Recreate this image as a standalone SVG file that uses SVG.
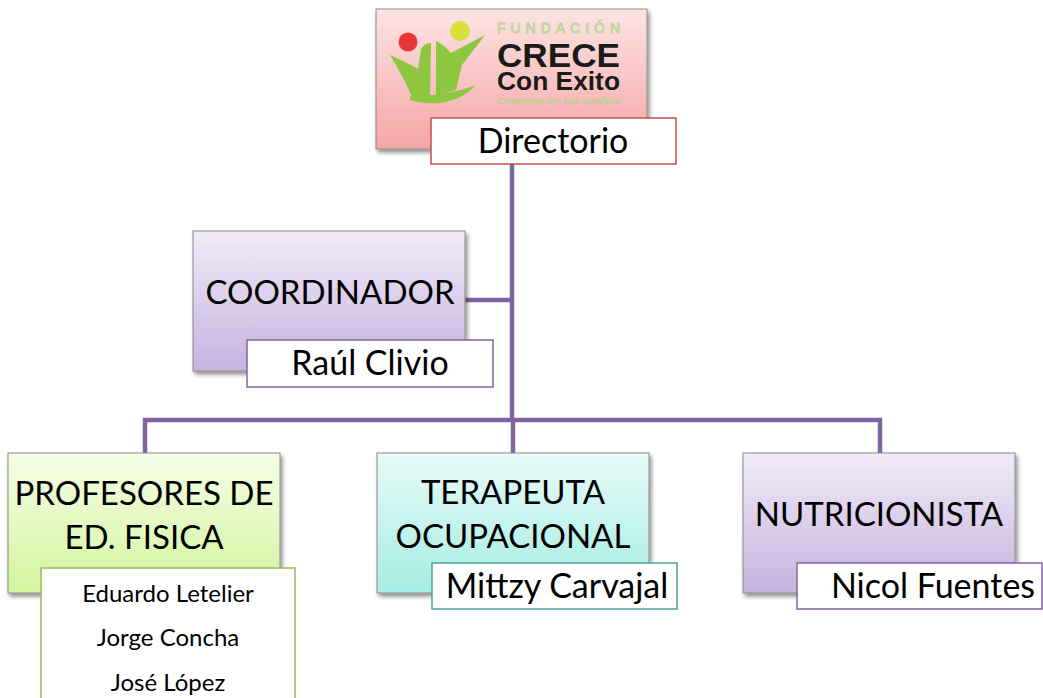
<svg xmlns="http://www.w3.org/2000/svg" width="1043" height="698" viewBox="0 0 1043 698">
<defs>
<linearGradient id="gPink" x1="0" y1="0" x2="0" y2="1"><stop offset="0" stop-color="#fde3e3"/><stop offset="1" stop-color="#f5a6a6"/></linearGradient>
<linearGradient id="gLav" x1="0" y1="0" x2="0" y2="1"><stop offset="0" stop-color="#f0ebf8"/><stop offset="1" stop-color="#c6b2df"/></linearGradient>
<linearGradient id="gGreen" x1="0" y1="0" x2="0" y2="1"><stop offset="0" stop-color="#f5fde6"/><stop offset="1" stop-color="#d3f59e"/></linearGradient>
<linearGradient id="gCyan" x1="0" y1="0" x2="0" y2="1"><stop offset="0" stop-color="#e8fbf9"/><stop offset="1" stop-color="#a5ece2"/></linearGradient>
<filter id="sh" x="-10%" y="-10%" width="125%" height="130%"><feDropShadow dx="2" dy="3" stdDeviation="2" flood-color="#000" flood-opacity="0.45"/></filter>
<style>
.box{stroke:#8c8c8c;stroke-width:1;filter:url(#sh)}
.sub{fill:#fff;stroke-width:1.5}
.t{font-family:Lato,"Liberation Sans",sans-serif;fill:#000;text-anchor:middle}
.big{font-size:33px}
.mid{font-size:34px}
.small{font-size:24px}
.conn{fill:none;stroke:#8064a2;stroke-width:4.5}
.lg{fill:#8dc63f}
.lt{font-family:"Liberation Sans",Arial,sans-serif;text-anchor:start}
</style>
</defs>
<g id="connectors">
<path class="conn" d="M512,164 V422"/>
<path class="conn" d="M465,300 H512"/>
<path class="conn" d="M145,453 V420 H880 V453"/>
<path class="conn" d="M513,420 V453"/>
</g>
<g id="node-directorio">
<rect class="box" x="376" y="9" width="271" height="140" fill="url(#gPink)"/>
<g id="logo">
<path class="lg" d="M390,55 Q406,62 418,69 L421,49 Q424,43 431,43 L430,96 L413,99 Q404,78 390,55 Z"/>
<path class="lg" d="M436,41 Q444,45 451,53 Q468,44 485,35 Q472,52 462,65 L456,90 L436,96 Z"/>
<path class="lg" d="M410,96 Q445,97 476,85 Q462,100 440,103 Q423,104 410,100 Z"/>
<circle cx="408" cy="42" r="9.5" fill="#e5383b"/>
<circle cx="460" cy="31" r="10" fill="#d8e03a"/>
<text class="lt" x="497" y="33" font-size="14" textLength="123" lengthAdjust="spacing" fill="none" stroke="#b5d68a" stroke-width="0.8">FUNDACIÓN</text>
<text class="lt" x="497" y="67" font-weight="bold" font-size="34" textLength="123" lengthAdjust="spacingAndGlyphs" fill="#1a1a1a">CRECE</text>
<text class="lt" x="497" y="90" font-weight="bold" font-size="25" textLength="123" lengthAdjust="spacingAndGlyphs" fill="#1a1a1a">Con Exito</text>
<text class="lt" x="497" y="104" font-size="9" textLength="123" lengthAdjust="spacingAndGlyphs" fill="none" stroke="#b5d68a" stroke-width="0.5">Creemos en tus sueños</text>
</g>
<rect class="sub" x="431" y="118" width="245" height="46" stroke="#c0504d"/>
<text class="t mid" x="553" y="153">Directorio</text>
</g>
<g id="node-coordinador">
<rect class="box" x="193" y="231" width="272" height="140" fill="url(#gLav)"/>
<text class="t big" x="330" y="304">COORDINADOR</text>
<rect class="sub" x="247" y="340" width="246" height="47" stroke="#8064a2"/>
<text class="t mid" x="370" y="375">Raúl Clivio</text>
</g>
<g id="node-profesores">
<rect class="box" x="8" y="453" width="272" height="140" fill="url(#gGreen)"/>
<text class="t big" x="144" y="505">PROFESORES DE</text>
<text class="t big" x="144" y="549">ED. FISICA</text>
<rect class="sub" x="41" y="568" width="254" height="140" stroke="#9bbb59"/>
<text class="t small" x="168" y="602">Eduardo Letelier</text>
<text class="t small" x="168" y="646">Jorge Concha</text>
<text class="t small" x="168" y="691">José López</text>
</g>
<g id="node-terapeuta">
<rect class="box" x="377" y="453" width="272" height="140" fill="url(#gCyan)"/>
<text class="t big" x="513" y="504">TERAPEUTA</text>
<text class="t big" x="513" y="548">OCUPACIONAL</text>
<rect class="sub" x="432" y="563" width="245" height="46" stroke="#4fa39a"/>
<text class="t mid" x="557" y="598">Mittzy Carvajal</text>
</g>
<g id="node-nutricionista">
<rect class="box" x="743" y="453" width="272" height="140" fill="url(#gLav)"/>
<text class="t big" x="879" y="526">NUTRICIONISTA</text>
<rect class="sub" x="797" y="563" width="245" height="46" stroke="#8064a2"/>
<text class="t mid" x="933" y="598">Nicol Fuentes</text>
</g>
</svg>
